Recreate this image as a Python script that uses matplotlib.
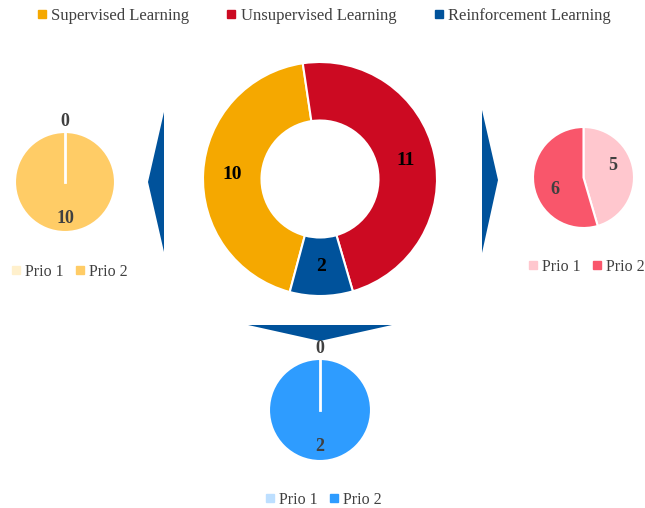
import matplotlib.pyplot as plt
from matplotlib.patches import Polygon
from matplotlib.lines import Line2D
import numpy as np

plt.rcParams['font.family'] = ['Liberation Serif', 'DejaVu Serif']

W, H = 645, 508

# data
categories = ['Supervised Learning', 'Unsupervised Learning', 'Reinforcement Learning']
totals = [10, 11, 2]
prio_labels = ['Prio 1', 'Prio 2']
supervised_prio = [0, 10]
unsupervised_prio = [5, 6]
reinforcement_prio = [0, 2]

main_colors = ['#F5A800', '#CC0A22', '#00529B']
sup_colors = ['#FFF0CC', '#FFCC66']
unsup_colors = ['#FFC7CE', '#F9566B']
reinf_colors = ['#BDDFFF', '#2E9CFF']
arrow_color = '#00529B'
label_gray = '#404040'

fig = plt.figure(figsize=(W / 100, H / 100), dpi=100)

# background axes in pixel coords for the arrow shapes
bg = fig.add_axes([0, 0, 1, 1])
bg.set_xlim(0, W)
bg.set_ylim(H, 0)
bg.axis('off')


def pie_axes(cx, cy, r):
    return fig.add_axes([(cx - r) / W, (H - cy - r) / H, 2 * r / W, 2 * r / H])


def draw_pie(ax, values, colors, start, label_r, zero_r, color, size,
             shift=0, width=None):
    wedges, _ = ax.pie(values, colors=colors, startangle=start,
                       counterclock=False,
                       wedgeprops=dict(edgecolor='white', linewidth=1.5,
                                       width=width))
    ax.set_xlim(-1, 1)
    ax.set_ylim(-1, 1)
    for w, v in zip(wedges, values):
        mid = np.deg2rad((w.theta1 + w.theta2) / 2 + shift)
        if v == 0:
            # empty slice still shows as a white separator line
            ax.plot([0, np.cos(mid)], [0, np.sin(mid)], color='white',
                    lw=2, zorder=5)
            d = zero_r
        else:
            d = label_r
        ax.text(d * np.cos(mid), d * np.sin(mid), str(v), ha='center',
                va='center', fontsize=size, fontweight='bold', color=color)


def prio_legend(colors, x, y):
    handles = [Line2D([], [], marker='s', ls='none', color=c, markersize=6)
               for c in colors]
    fig.legend(handles, prio_labels, loc='center',
               bbox_to_anchor=(x / W, 1 - y / H), ncol=2, frameon=False,
               fontsize=11.5, handlelength=0.5, handletextpad=0.3,
               columnspacing=0.8, labelcolor=label_gray)


# donut
ax = pie_axes(320, 179, 117)
draw_pie(ax, totals, main_colors, -105, 0.75, 0.75, 'black', 14, width=0.5)

# sub pies
ax = pie_axes(65, 182, 50)
draw_pie(ax, supervised_prio, sup_colors, 90, 0.72, 1.22, label_gray, 13)

ax = pie_axes(583.5, 177.5, 50.5)
draw_pie(ax, unsupervised_prio, unsup_colors, 90, 0.62, 1.2, label_gray, 13,
         shift=15)

ax = pie_axes(320, 410, 51)
draw_pie(ax, reinforcement_prio, reinf_colors, 90, 0.72, 1.2, label_gray, 13)

# arrows
for pts in [[(164, 112), (148, 182), (164, 252)],
            [(482, 110), (498, 180), (482, 253)],
            [(248, 325), (392, 325), (320, 341)]]:
    bg.add_patch(Polygon(pts, closed=True, color=arrow_color, lw=0))

# legends
handles = [Line2D([], [], marker='s', ls='none', color=c, markersize=5.5)
           for c in main_colors]
fig.legend(handles, categories, loc='center',
           bbox_to_anchor=(324 / W, 1 - 16 / H), ncol=3, frameon=False,
           fontsize=12, handlelength=0.5, handletextpad=0.3,
           columnspacing=2.3, labelcolor=label_gray)

prio_legend(sup_colors, 70, 272)
prio_legend(unsup_colors, 587, 267)
prio_legend(reinf_colors, 324, 500)

fig.savefig('out.png', dpi=100)
